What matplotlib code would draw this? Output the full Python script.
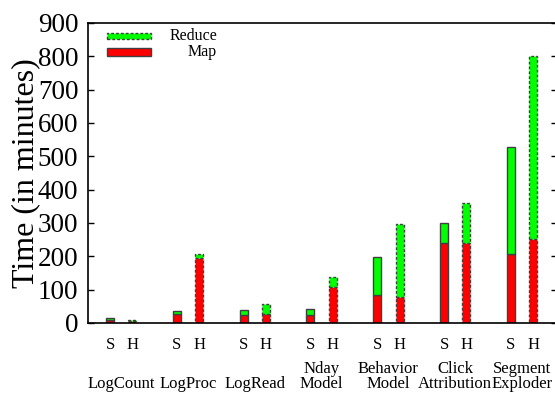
import matplotlib
matplotlib.use('Agg')
import matplotlib.pyplot as plt
from matplotlib.patches import Rectangle
import matplotlib.transforms as mtransforms

plt.rcParams['font.family'] = ['Liberation Serif', 'DejaVu Serif']

jobs = ['LogCount', 'LogProc', 'LogRead', 'Nday\nModel', 'Behavior\nModel',
        'Click\nAttribution', 'Segment\nExploder']
# S = first system, H = second system (Hadoop)
s_map = [8, 26, 25, 25, 84, 239, 207]
s_total = [14, 37, 40, 42, 199, 299, 528]
h_map = [7, 194, 26, 107, 79, 239, 252]
h_total = [10, 206, 57, 137, 296, 361, 801]

s_reduce = [t - m for t, m in zip(s_total, s_map)]
h_reduce = [t - m for t, m in zip(h_total, h_map)]

fig = plt.figure(figsize=(5.55, 3.93), dpi=100)
ax = fig.add_axes([88 / 555, 1 - 323 / 393, (557 - 88) / 555, 300 / 393])

s_x = [3 * i for i in range(len(jobs))]
h_x = [3 * i + 1 for i in range(len(jobs))]
w = 0.36
edge = '#404040'

ax.bar(s_x, s_map, w, color='#ff0000', edgecolor=edge, linewidth=1)
ax.bar(s_x, s_reduce, w, bottom=s_map, color='#00ff00', edgecolor=edge, linewidth=1)
ax.bar(h_x, h_map, w, color='#ff0000', edgecolor=edge, linewidth=1, linestyle=(0, (2, 1.5)))
ax.bar(h_x, h_reduce, w, bottom=h_map, color='#00ff00', edgecolor=edge, linewidth=1,
       linestyle=(0, (2, 1.5)))

ax.set_xlim(-0.99, 20.07)
ax.set_ylim(0, 900)
ax.set_yticks(range(0, 901, 100))
ax.tick_params(axis='y', direction='in', length=4, width=1, labelsize=19.5, pad=7,
               right=True)
ax.set_xticks(s_x + h_x)
ax.set_xticklabels(['S'] * len(s_x) + ['H'] * len(h_x), fontsize=12)
ax.tick_params(axis='x', length=0, pad=10)
for sp in ax.spines.values():
    sp.set_linewidth(1.2)

ax.set_ylabel('Time (in minutes)', fontsize=23, labelpad=-2)

trans = mtransforms.blended_transform_factory(ax.transData, ax.transAxes)
for i, name in enumerate(jobs):
    ax.text(3 * i + 0.5, -0.23, name, transform=trans, ha='center', va='bottom',
            fontsize=12, linespacing=0.95)

# legend, gnuplot style
fx = lambda px: (px - 88) / (557 - 88)
fy = lambda py: (323 - py) / 300
ax.add_patch(Rectangle((fx(107), fy(39)), fx(151) - fx(107), fy(33) - fy(39),
                       transform=ax.transAxes, facecolor='#00ff00', edgecolor=edge,
                       linewidth=1, linestyle=(0, (2, 1.5))))
ax.add_patch(Rectangle((fx(107), fy(56)), fx(151) - fx(107), fy(48) - fy(56),
                       transform=ax.transAxes, facecolor='#ff0000', edgecolor=edge,
                       linewidth=1))
ax.text(fx(217), fy(36), 'Reduce', transform=ax.transAxes, ha='right', va='center',
        fontsize=11.5)
ax.text(fx(217), fy(52), 'Map', transform=ax.transAxes, ha='right', va='center',
        fontsize=11.5)

fig.savefig('out.png', dpi=100)
